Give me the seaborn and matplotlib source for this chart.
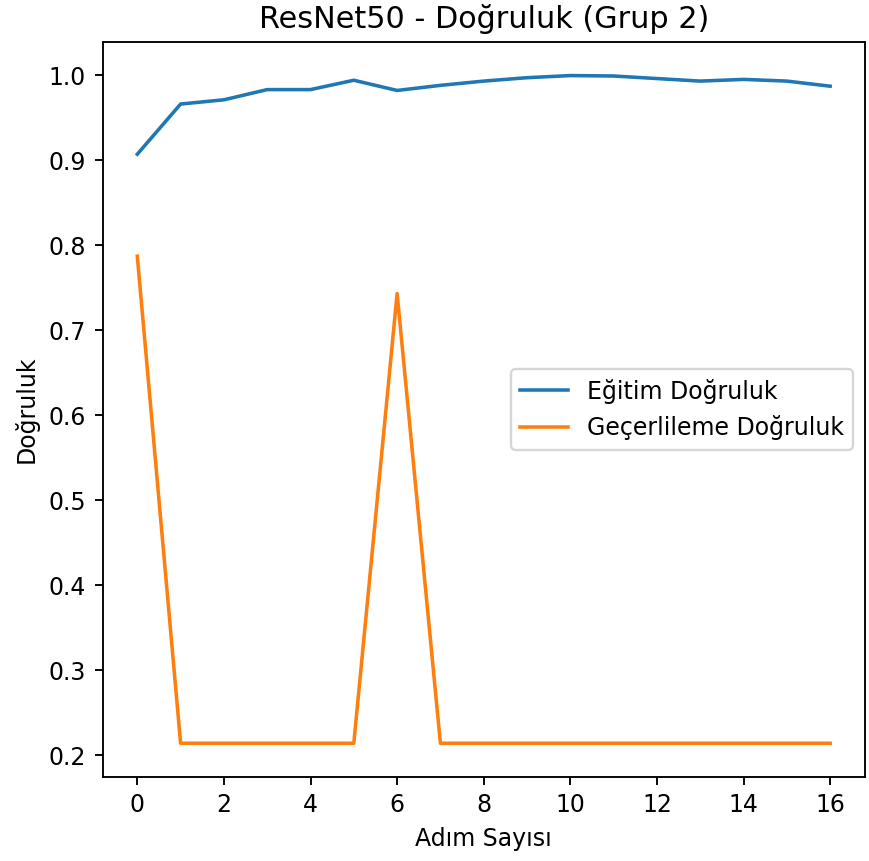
import numpy as np
import pandas as pd
import matplotlib
matplotlib.use("Agg")
import matplotlib.pyplot as plt
import seaborn as sns

# values
steps = list(range(17))
train_acc = [0.907, 0.966, 0.971, 0.983, 0.983, 0.994, 0.982, 0.988, 0.993,
             0.997, 0.9995, 0.999, 0.996, 0.993, 0.995, 0.993, 0.987]
val_acc = [0.787, 0.214, 0.214, 0.214, 0.214, 0.214, 0.743, 0.214, 0.214,
           0.214, 0.214, 0.214, 0.214, 0.214, 0.214, 0.214, 0.214]

df = pd.DataFrame({
    "step": steps * 2,
    "acc": train_acc + val_acc,
    "kind": ["Eğitim Doğruluk"] * len(steps) + ["Geçerlileme Doğruluk"] * len(steps),
})

DPI = 170
fig, ax = plt.subplots(figsize=(870 / DPI, 861 / DPI), dpi=DPI)
sns.lineplot(data=df, x="step", y="acc", hue="kind",
             palette=["#1f77b4", "#ff7f0e"], linewidth=1.5, ax=ax)

ax.set_title("ResNet50 - Doğruluk (Grup 2)", fontsize=12.8)
ax.set_xlabel("Adım Sayısı")
ax.set_ylabel("Doğruluk")
ax.set_xticks(range(0, 17, 2))
ax.legend(loc="center right", title=None)

fig.subplots_adjust(left=0.118, right=0.994, top=0.951, bottom=0.098)
fig.savefig("out.png", dpi=DPI)
